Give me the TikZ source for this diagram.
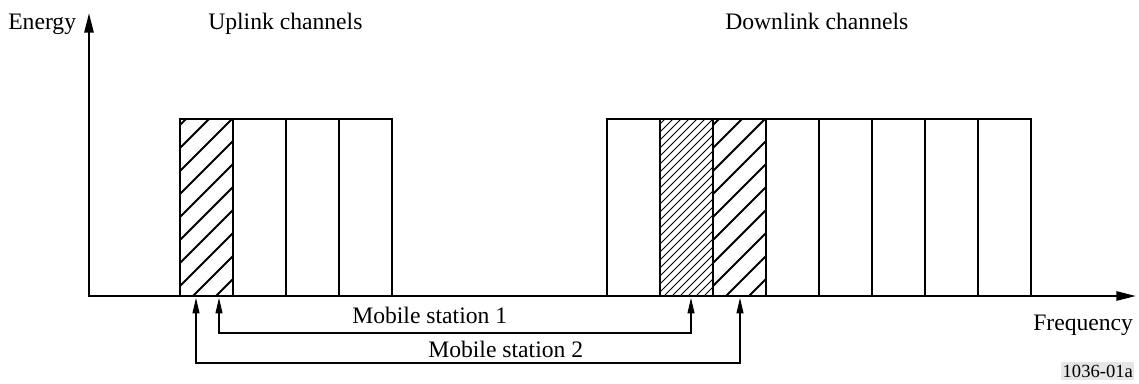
\documentclass[tikz,border=0pt]{standalone}
\usepackage{fontspec}
\setmainfont{Liberation Serif}
\usetikzlibrary{positioning, arrows.meta, calc}
\definecolor{figGray}{HTML}{E6E6E6}

\begin{document}
\begin{tikzpicture}[
  x=0.025cm, y=-0.025cm,
  chan/.style={draw, line width=1.9pt, minimum width=1.325cm,
               minimum height=4.425cm, inner sep=0pt, outer sep=0pt},
  axis/.style={line width=1.6pt, {Triangle[length=14pt,width=6.5pt]}-{Triangle[length=14pt,width=6.5pt]}},
  conn/.style={line width=0.75pt, {Triangle[length=11pt,width=5pt]}-{Triangle[length=11pt,width=5pt]}},
  hatchthick/.style={line width=1.4pt},
  hatchfine/.style={line width=0.6pt},
  lbl/.style={anchor=base west, inner sep=0pt, font=\fontsize{16.8}{20}\selectfont},
]
  \useasboundingbox (0,0) rectangle (1139,383);

  % axes
  \coordinate (origin) at (89,296);
  \coordinate (ytip) at (89,13);
  \coordinate (xtip) at (1136,296);
  \draw[axis] (ytip) -- (origin) -- (xtip);

  % channels
  \foreach \i in {0,...,3}
    \node[chan] (u\i) at ({206.5+53*\i}, 207.5) {};
  \foreach \i in {0,...,7}
    \node[chan] (d\i) at ({633.5+53*\i}, 207.5) {};

  % hatching
  \foreach \c in {u0, d2} {
    \begin{scope}
      \clip (\c.south west) rectangle (\c.north east);
      \foreach \s in {-171,-148,...,60}
        \draw[hatchthick] ($(\c.south west)+(\s,0)$) -- ++(240,-240);
    \end{scope}
  }
  \begin{scope}
    \clip (d1.south west) rectangle (d1.north east);
    \foreach \s in {-180,-172,...,60}
      \draw[hatchfine] ($(d1.south west)+(\s,0)$) -- ++(240,-240);
  \end{scope}

  % labels
  \node[lbl] (energy) at (8,29) {Energy};
  \node[lbl] (uplink) at (208,29) {Uplink channels};
  \node[lbl] (downlink) at (725,29) {Downlink channels};
  \node[lbl] (freq) at (1033,330) {Frequency};
  \node[lbl] (ms1) at (352,323) {Mobile station 1};
  \node[lbl] (ms2) at (428,357) {Mobile station 2};
  \node[anchor=base west, fill=figGray, inner xsep=1pt, inner ysep=2pt,
        font=\fontsize{13.2}{15}\selectfont] (figno) at (1061,377) {1036-01a};

  % mobile stations
  \coordinate (m1up) at (219,298);
  \coordinate (m1dn) at (691,298);
  \coordinate (m2up) at (196,298);
  \coordinate (m2dn) at (740,298);
  \draw[conn] (m1up) -- ++(0,35) -| (m1dn);
  \draw[conn] (m2up) -- ++(0,65) -| (m2dn);
\end{tikzpicture}
\end{document}
